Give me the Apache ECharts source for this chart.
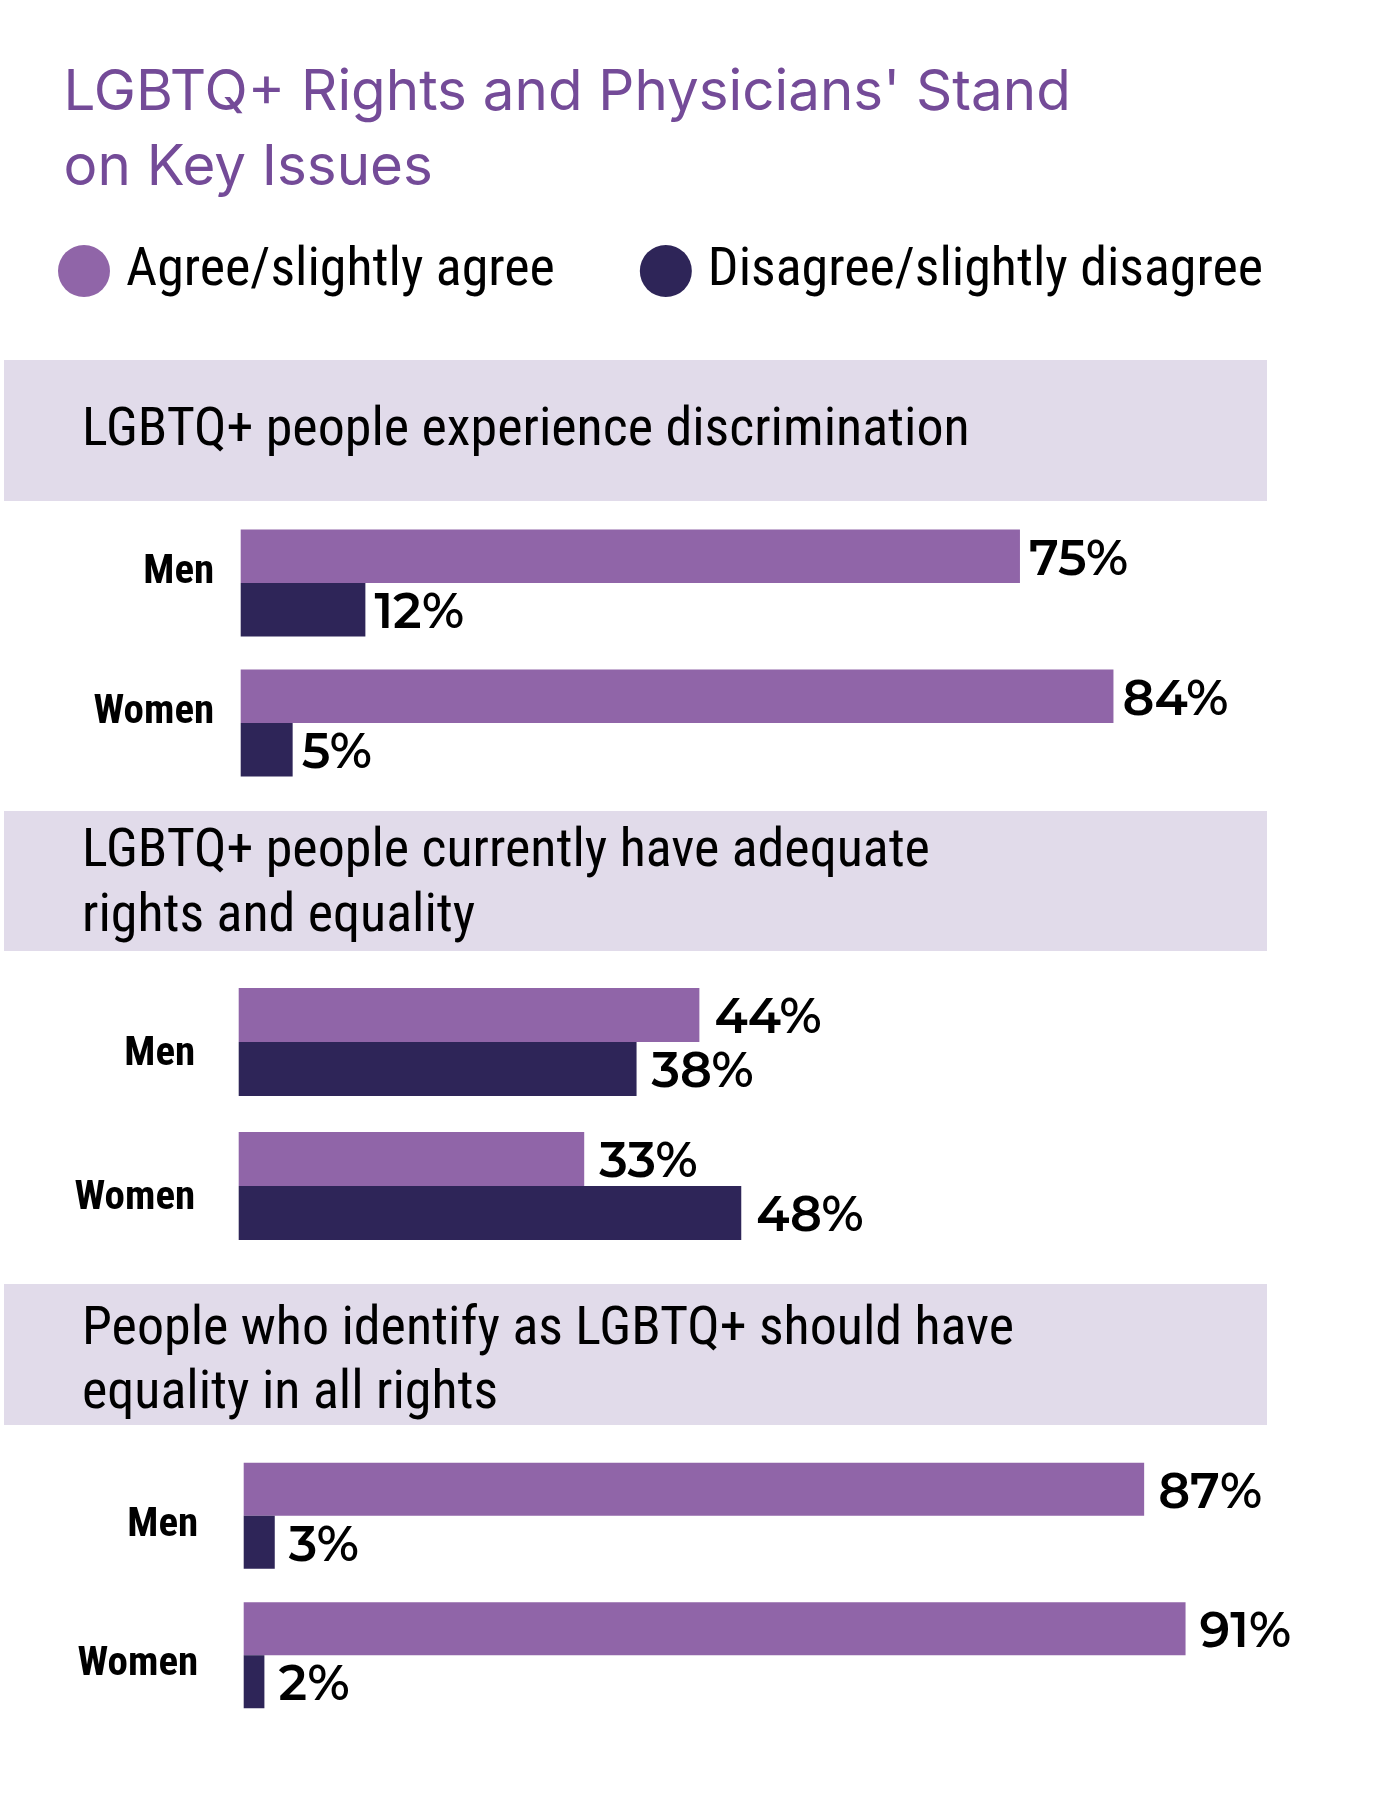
<!DOCTYPE html>
<html><head><meta charset="utf-8">
<script src="https://cdn.jsdelivr.net/npm/echarts@6/dist/echarts.min.js"></script>
<style>html,body{margin:0;padding:0;background:#fff}#c{width:1380px;height:1793px}</style></head>
<body><div id="c"></div>
<script>
// ---- data ----
const titleLines = ["LGBTQ+ Rights and Physicians' Stand", "on Key Issues"];
const seriesNames = ["Agree/slightly agree", "Disagree/slightly disagree"];
const categories = ["Men", "Women"];
const panelTitles = [
  ["LGBTQ+ people experience discrimination"],
  ["LGBTQ+ people currently have adequate", "rights and equality"],
  ["People who identify as LGBTQ+ should have", "equality in all rights"]
];
const agreeDiscrimination = [75, 84];
const disagreeDiscrimination = [12, 5];
const agreeAdequate = [44, 33];
const disagreeAdequate = [38, 48];
const agreeEquality = [87, 91];
const disagreeEquality = [3, 2];

// ---- style / layout ----
const C_AGREE = '#9065a8', C_DIS = '#2e2558', C_PANEL = '#e1dbea', C_TITLE = '#744b98';
const COND = '"Roboto Condensed", Roboto, sans-serif';
const VAL = 'Montserrat, Lato, sans-serif';
const panels = [
  {agree: agreeDiscrimination, dis: disagreeDiscrimination, rectY: 360, rectH: 141, textY: [431],
   grid: {left: 240.7, width: 1039, top: 513, height: 280}, barW: 53.5, margin: 26.5, va: 'bottom', lh: 20, dist: 9},
  {agree: agreeAdequate, dis: disagreeAdequate, rectY: 811, rectH: 140, textY: [852.5, 917],
   grid: {left: 238.7, width: 1047, top: 970, height: 288}, barW: 54, margin: 43.5, va: 'top', lh: 25, dist: 15},
  {agree: agreeEquality, dis: disagreeEquality, rectY: 1284, rectH: 141, textY: [1330, 1394],
   grid: {left: 243.7, width: 1035, top: 1446, height: 279}, barW: 53, margin: 45.5, va: 'top', lh: 19, dist: 14}
];

const grids = [], xAxes = [], yAxes = [], series = [], graphics = [];
titleLines.forEach((t, i) => graphics.push({type: 'text', x: 63.5, y: [93, 168][i],
  style: {text: t, fontFamily: 'Inter, sans-serif', fontSize: 56.5, fontWeight: 400, fill: C_TITLE, verticalAlign: 'middle'}}));

panels.forEach((p, i) => {
  graphics.push({type: 'rect', shape: {x: 4, y: p.rectY, width: 1263, height: p.rectH}, style: {fill: C_PANEL}, z: -1});
  panelTitles[i].forEach((t, j) => graphics.push({type: 'text', x: 82, y: p.textY[j],
    style: {text: t, fontFamily: COND, fontSize: 54, fill: '#000', verticalAlign: 'middle'}}));
  grids.push(Object.assign({containLabel: false}, p.grid));
  xAxes.push({type: 'value', gridIndex: i, min: 0, max: 100, show: false});
  yAxes.push({type: 'category', gridIndex: i, data: categories, inverse: true,
    axisLine: {show: false}, axisTick: {show: false}, splitLine: {show: false},
    axisLabel: {margin: p.margin, fontFamily: COND, fontWeight: 'bold', fontSize: 41, color: '#000',
      verticalAlign: p.va, lineHeight: p.lh}});
  [[p.agree, C_AGREE, 0], [p.dis, C_DIS, 1]].forEach(([vals, col, k]) => series.push({
    type: 'bar', name: seriesNames[k], xAxisIndex: i, yAxisIndex: i, data: vals,
    barWidth: p.barW, barGap: '0%', itemStyle: {color: col}, animation: false,
    label: {show: true, position: 'right', distance: p.dist, offset: [0, 4], formatter: '{c}%',
      fontFamily: VAL, fontWeight: 600, fontSize: 49, color: '#000'}
  }));
});

const chart = echarts.init(document.getElementById('c'), null, {renderer: 'canvas'});
chart.setOption({
  backgroundColor: '#fff',
  animation: false,
  legend: {data: seriesNames, left: 58, top: 244, padding: 0, icon: 'circle', itemWidth: 52, itemHeight: 52,
    itemGap: 85, selectedMode: false,
    textStyle: {fontFamily: COND, fontSize: 54, color: '#000', padding: [0, 0, 0, 11]}},
  grid: grids, xAxis: xAxes, yAxis: yAxes, series: series, graphic: graphics
});
</script></body></html>
